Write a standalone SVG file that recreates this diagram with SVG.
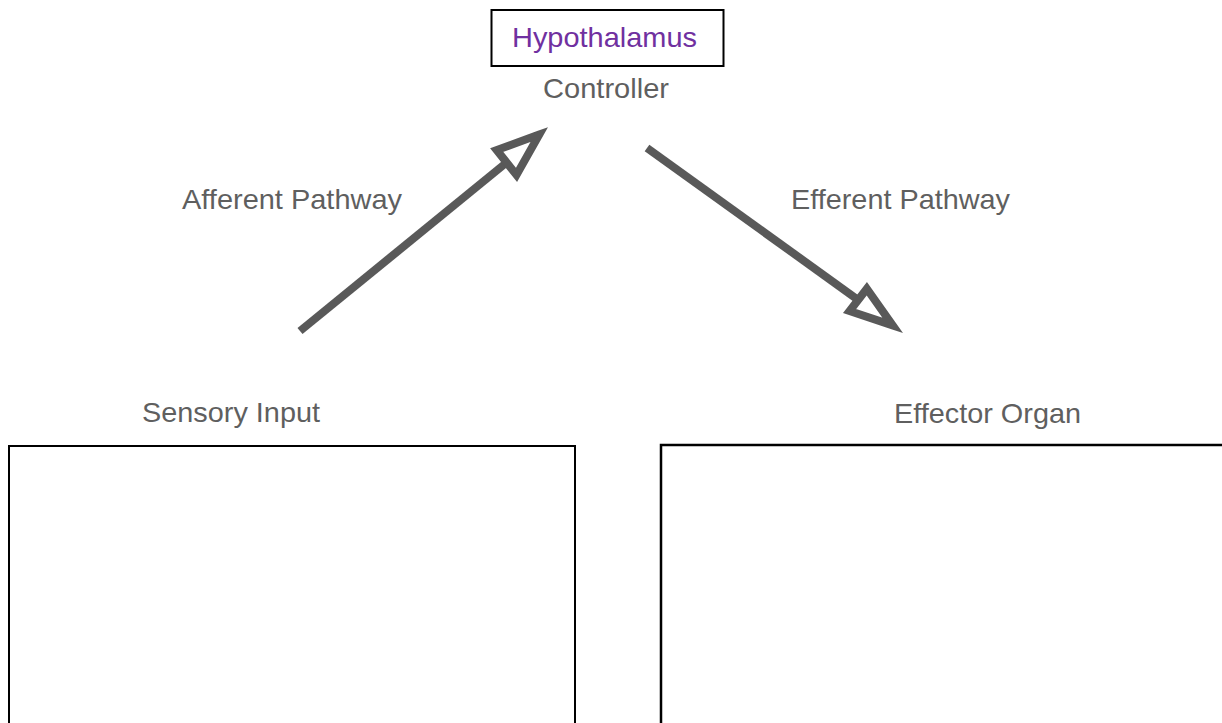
<svg xmlns="http://www.w3.org/2000/svg" width="1222" height="723" viewBox="0 0 1222 723">
<style>
.lbl{font-family:"Liberation Sans",Arial,sans-serif;font-size:28px;fill:#5f5f5f}
.box{fill:#ffffff;stroke:#000000}
.shaft{stroke:#595959;stroke-width:8;fill:none}
.head{stroke:#595959;stroke-width:8;fill:#ffffff;stroke-linejoin:miter;stroke-miterlimit:10}
</style>
<rect width="1222" height="723" fill="#ffffff"/>
<g id="connectors">
<g id="afferent">
<line class="shaft" x1="300" y1="331" x2="506.6" y2="162.5"/>
<polygon class="head" points="539.2,134.6 496.7,150 516.5,174.9"/>
</g>
<g id="efferent">
<line class="shaft" x1="647" y1="148" x2="858.2" y2="299.9"/>
<polygon class="head" points="892.7,325.4 849.6,311 866.8,288.7"/>
</g>
<text class="lbl" x="182" y="208.5" textLength="220" lengthAdjust="spacingAndGlyphs">Afferent Pathway</text>
<text class="lbl" x="791" y="208.5" textLength="219" lengthAdjust="spacingAndGlyphs">Efferent Pathway</text>
</g>
<g id="controller">
<rect class="box" x="491.5" y="10" width="232" height="56" stroke-width="2"/>
<text x="512" y="47" textLength="185" lengthAdjust="spacingAndGlyphs" style="font-family:'Liberation Sans',Arial,sans-serif;font-size:28px;fill:#7030a0">Hypothalamus</text>
<text class="lbl" x="543" y="98" textLength="126" lengthAdjust="spacingAndGlyphs">Controller</text>
</g>
<g id="sensory">
<text class="lbl" x="142" y="421.5" textLength="178" lengthAdjust="spacingAndGlyphs">Sensory Input</text>
<rect class="box" x="9" y="446" width="566" height="300" stroke-width="2"/>
</g>
<g id="effector">
<text class="lbl" x="894" y="422.5" textLength="187" lengthAdjust="spacingAndGlyphs">Effector Organ</text>
<rect class="box" x="661" y="445" width="600" height="300" stroke-width="2.5"/>
</g>
</svg>
